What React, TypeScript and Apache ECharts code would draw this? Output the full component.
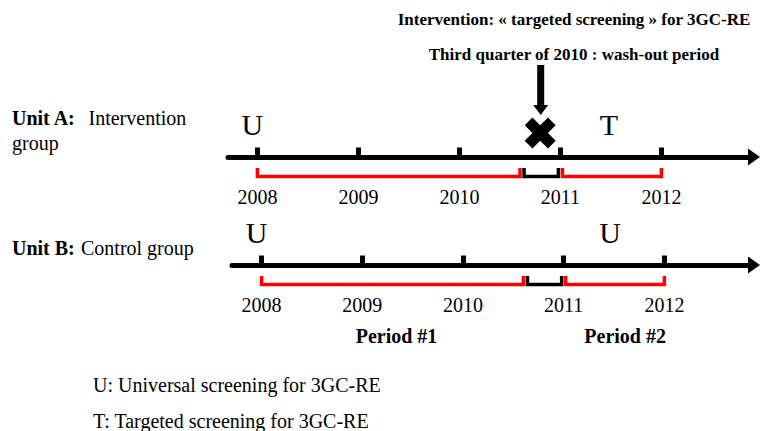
import React, { useEffect, useRef } from "react";
import * as echarts from "echarts";

// ---- data ----
const YEARS = [2008, 2009, 2010, 2011, 2012];
const PERIOD_1 = [2008, 2010.6];
const WASHOUT = [2010.64, 2010.98];
const PERIOD_2 = [2011.02, 2012];
const INTERVENTION_YEAR = 2010.8;
const UNIT_A_PHASES = [
  { year: 2007.95, code: "U" },
  { year: 2011.48, code: "T" },
];
const UNIT_B_PHASES = [
  { year: 2007.95, code: "U" },
  { year: 2011.46, code: "U" },
];
const PERIOD_LABELS = [
  { year: 2009.34, name: "Period #1" },
  { year: 2011.61, name: "Period #2" },
];
const TITLE_LINES = [
  "Intervention: « targeted screening » for 3GC-RE",
  "Third quarter of 2010 : wash-out period",
];
const LEGEND_LINES = [
  "U: Universal screening for 3GC-RE",
  "T: Targeted screening for 3GC-RE",
];

const FONT = "'Liberation Serif', 'Times New Roman', Times, serif";

const X_SHAPE =
  "path://M0,7.5 L7.5,0 L15,7.5 L22.5,0 L30,7.5 L22.5,15 L30,22.5 L22.5,30 L15,22.5 L7.5,30 L0,22.5 L7.5,15 Z";
const DOWN_ARROW = "path://M4,0 L11,0 L11,40 L15,40 L7.5,50 L0,40 L4,40 Z";

function xAxisFor(gridIndex: number, min: number, max: number) {
  return {
    gridIndex,
    type: "value",
    min,
    max,
    position: "bottom",
    axisLine: {
      show: true,
      onZero: false,
      symbol: ["none", "triangle"],
      symbolSize: [17, 12],
      lineStyle: { color: "#000", width: 5 },
    },
    axisTick: {
      show: true,
      inside: true,
      length: 9.5,
      customValues: YEARS,
      lineStyle: { color: "#000", width: 5 },
    },
    axisLabel: {
      show: true,
      customValues: YEARS,
      margin: 40,
      verticalAlign: "middle",
      fontSize: 20,
      fontFamily: FONT,
      color: "#000",
      formatter: (v: number) => String(Math.round(v)),
    },
    splitLine: { show: false },
  };
}

function bracketSeries(idx: number, data: number[][], color: string) {
  return {
    type: "custom",
    xAxisIndex: idx,
    yAxisIndex: idx,
    silent: true,
    clip: false,
    data,
    encode: { x: [0, 1] },
    renderItem: (_p: any, api: any) => {
      const a = api.coord([api.value(0), 0]);
      const b = api.coord([api.value(1), 0]);
      return {
        type: "polyline",
        shape: {
          points: [
            [a[0], a[1] + 11],
            [a[0], a[1] + 19.5],
            [b[0], b[1] + 19.5],
            [b[0], b[1] + 11],
          ],
        },
        style: { stroke: color, lineWidth: 3.5, fill: null, lineJoin: "miter" },
      };
    },
  };
}

function phaseSeries(idx: number, phases: { year: number; code: string }[]) {
  return {
    type: "scatter",
    xAxisIndex: idx,
    yAxisIndex: idx,
    silent: true,
    clip: false,
    symbolSize: 0,
    itemStyle: { opacity: 1 },
    data: phases.map((p) => ({ value: [p.year, 0], name: p.code })),
    label: {
      show: true,
      position: "inside",
      formatter: "{b}",
      offset: [0, -33],
      fontSize: 30,
      fontFamily: FONT,
      color: "#000",
      verticalAlign: "middle",
    },
  };
}

function txt(text: string, x: number, y: number, size: number, bold: boolean, align = "left") {
  return {
    type: "text",
    silent: true,
    style: {
      text,
      x,
      y,
      fontSize: size,
      fontFamily: FONT,
      fontWeight: bold ? "bold" : "normal",
      fill: "#000",
      align,
      verticalAlign: "middle",
    },
  };
}

export default function App() {
  const ref = useRef<HTMLDivElement>(null);
  useEffect(() => {
    if (!ref.current) return;
    const chart = echarts.init(ref.current, undefined, { renderer: "svg" });
    const option: any = {
      animation: false,
      backgroundColor: "#fff",
      textStyle: { fontFamily: FONT },
      grid: [
        { left: 228, right: 6, top: 117, height: 40 },
        { left: 232, right: 6, top: 225, height: 40 },
      ],
      xAxis: [xAxisFor(0, 2007.7089, 2012.9168), xAxisFor(1, 2007.706, 2012.89)],
      yAxis: [
        { gridIndex: 0, type: "value", min: 0, max: 40, show: false },
        { gridIndex: 1, type: "value", min: 0, max: 40, show: false },
      ],
      series: [
        bracketSeries(0, [PERIOD_1, PERIOD_2], "#ff0000"),
        bracketSeries(0, [WASHOUT], "#000"),
        bracketSeries(1, [PERIOD_1, PERIOD_2], "#ff0000"),
        bracketSeries(1, [WASHOUT], "#000"),
        phaseSeries(0, UNIT_A_PHASES),
        phaseSeries(1, UNIT_B_PHASES),
        {
          type: "scatter",
          xAxisIndex: 0,
          yAxisIndex: 0,
          silent: true,
          clip: false,
          symbol: X_SHAPE,
          symbolSize: [31, 31],
          symbolOffset: [0, -24],
          itemStyle: { color: "#000", opacity: 1 },
          data: [[INTERVENTION_YEAR, 0]],
        },
        {
          type: "scatter",
          xAxisIndex: 0,
          yAxisIndex: 0,
          silent: true,
          clip: false,
          symbol: DOWN_ARROW,
          symbolSize: [15, 50],
          symbolOffset: [0.5, -67],
          itemStyle: { color: "#000", opacity: 1 },
          data: [[INTERVENTION_YEAR, 0]],
        },
        {
          type: "scatter",
          xAxisIndex: 1,
          yAxisIndex: 1,
          silent: true,
          clip: false,
          symbolSize: 0,
          itemStyle: { opacity: 1 },
          data: PERIOD_LABELS.map((p) => ({ value: [p.year, 0], name: p.name })),
          label: {
            show: true,
            position: "inside",
            formatter: "{b}",
            offset: [0, 71],
            fontSize: 20,
            fontWeight: "bold",
            fontFamily: FONT,
            color: "#000",
            verticalAlign: "middle",
          },
        },
      ],
      graphic: [
        txt(TITLE_LINES[0], 574, 19, 17, true, "center"),
        txt(TITLE_LINES[1], 574, 54, 17, true, "center"),
        txt("Unit A:", 12, 118, 20, true),
        txt("Intervention", 88.5, 118, 20, false),
        txt("group", 12, 143, 20, false),
        txt("Unit B:", 12, 248, 20, true),
        txt("Control group", 81, 248, 20, false),
        txt(LEGEND_LINES[0], 93, 385, 20, false),
        txt(LEGEND_LINES[1], 93, 421, 20, false),
      ],
    };
    chart.setOption(option);
    return () => chart.dispose();
  }, []);
  return (
    <div
      ref={ref}
      style={{ position: "absolute", left: 0, top: 0, width: 760, height: 431, background: "#fff" }}
    />
  );
}
